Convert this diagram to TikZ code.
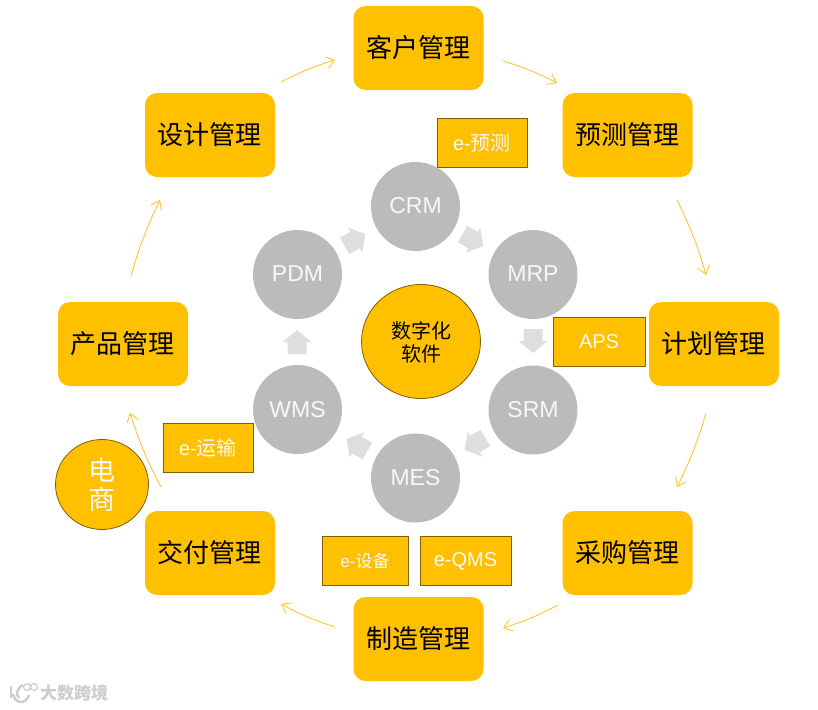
\documentclass[tikz,border=0pt]{standalone}
\usepackage{fontspec}
\setmainfont{Liberation Sans}
\newfontfamily\cjk{Noto Sans CJK SC}
\usetikzlibrary{arrows.meta}
\definecolor{amber}{HTML}{FFC000}
\definecolor{edgebrown}{HTML}{7F6000}
\definecolor{disc}{HTML}{BBBBBB}
\definecolor{blockgray}{HTML}{DEDEDE}
\definecolor{softwhite}{HTML}{F8F8F8}
\definecolor{wmgray}{HTML}{CDCDCD}
\definecolor{flowline}{HTML}{FFC533}
\newcommand{\sz}[1]{\fontsize{#1}{#1}\selectfont}
\newcommand{\blockarrow}[3]{\fill[blockgray,shift={(#1,#2)},rotate=#3] (0,-12) -- (14.5,0) -- (9.5,0) -- (9.5,12) -- (-9.5,12) -- (-9.5,0) -- (-14.5,0) -- cycle;}
\tikzset{
  stage/.style={fill=amber,rounded corners=12pt,minimum width=130pt,minimum height=84pt,inner sep=0pt,font=\cjk\sz{26},text=black},
  tag/.style={fill=amber,draw=edgebrown,line width=0.8pt,minimum height=49.5pt,inner sep=0pt,font=\sz{20},text=softwhite},
  sys/.style={circle,fill=disc,minimum size=89pt,inner sep=0pt,font=\sz{23},text=softwhite},
  flow/.style={draw=flowline,line width=0.9pt,-{Straight Barb[length=8pt,width=12pt,line width=0.9pt]}},
}
\begin{document}
\begin{tikzpicture}[x=1pt,y=-1pt]
\useasboundingbox (0,0) rectangle (818,709);
% outer ring
\node[stage] (kehu) at (418.5,48) {\raisebox{0.5pt}{\hspace{-1pt}客户管理}};
\node[stage] (yuce) at (627.5,135) {\raisebox{0.5pt}{\hspace{-1pt}预测管理}};
\node[stage] (jihua) at (714,344) {\raisebox{0.5pt}{\hspace{-2pt}计划管理}};
\node[stage] (caigou) at (627.5,553) {\raisebox{1pt}{\hspace{-1pt}采购管理}};
\node[stage] (zhizao) at (418.5,639) {\raisebox{0.5pt}{\hspace{-1pt}制造管理}};
\node[stage] (jiaofu) at (210,553) {\raisebox{1pt}{\hspace{-2pt}交付管理}};
\node[stage] (chanpin) at (123,344) {\raisebox{1pt}{\hspace{-2pt}产品管理}};
\node[stage] (sheji) at (210,135) {\raisebox{0.5pt}{\hspace{-2pt}设计管理}};
% free connector ends
\coordinate (a1) at (503,61);  \coordinate (b1) at (557,83);
\coordinate (a2) at (677,200); \coordinate (b2) at (706,275);
\coordinate (a3) at (706,413); \coordinate (b3) at (677,487);
\coordinate (a4) at (558,605); \coordinate (b4) at (503,628);
\coordinate (a5) at (335,627); \coordinate (b5) at (281,604);
\coordinate (a6) at (161,487); \coordinate (b6) at (130,413);
\coordinate (a7) at (131,276); \coordinate (b7) at (160,200);
\coordinate (a8) at (281,82);  \coordinate (b8) at (335,60);
\draw[flow] (a1) to[bend left=5] (b1);
\draw[flow] (a2) to[bend left=5] (b2);
\draw[flow] (a3) to[bend left=5] (b3);
\draw[flow] (a4) to[bend left=5] (b4);
\draw[flow] (a5) to[bend left=5] (b5);
\draw[flow] (a6) to[bend left=5] (b6);
\draw[flow] (a7) to[bend left=5] (b7);
\draw[flow] (a8) to[bend left=5] (b8);
% inner ring
\node[sys] (crm) at (415.5,206.5) {\raisebox{1.5pt}{CRM}};
\node[sys] (mrp) at (533,274.5) {\raisebox{1pt}{MRP}};
\node[sys] (srm) at (533,410) {\raisebox{1pt}{SRM}};
\node[sys] (mes) at (415.5,478) {\raisebox{1pt}{MES}};
\node[sys] (wms) at (297.5,409.5) {\raisebox{1pt}{WMS}};
\node[sys] (pdm) at (297.5,274.5) {\raisebox{1pt}{PDM}};
\blockarrow{355}{240}{-60}
\blockarrow{473}{240}{-120}
\blockarrow{533}{341}{180}
\blockarrow{475}{444}{120}
\blockarrow{357}{445}{60}
\blockarrow{297}{342}{0}
% centre
\draw[fill=amber,draw=edgebrown,line width=0.8pt] (421,341.5) ellipse [x radius=59.5pt,y radius=57pt];
\node[font=\cjk\sz{20},text=black,align=center,inner sep=0pt] (digital) at (421,342) {数字化\\[3pt]软件};
% tags
\node[tag,minimum width=90pt] (tyuce) at (482,143) {e-{\cjk 预测}};
\node[tag,minimum width=92pt] (taps) at (599,342) {APS};
\node[tag,minimum width=90pt] (tyunshu) at (208,448) {e-{\cjk 运输}};
\node[tag,minimum width=86pt,font=\sz{17}] (tshebei) at (365,561) {e-{\cjk 设备}};
\node[tag,minimum width=91pt] (tqms) at (465.5,561) {e-QMS};
% e-commerce
\draw[fill=amber,draw=edgebrown,line width=0.8pt] (102,484.5) ellipse [x radius=46.5pt,y radius=45pt];
\node[font=\cjk\sz{27},text=softwhite,align=center,inner sep=0pt] (dianshang) at (102,485) {电\\[2pt]商};
% watermark
\draw[wmgray,line width=2.4pt] (11,686) -- (11,698);
\draw[wmgray,line width=2.4pt] (23,685) .. controls (16,689) and (16,695) .. (19,698);
\draw[wmgray,line width=2.4pt] (13,694) .. controls (15,704) and (26,705) .. (29,695);
\draw[wmgray,line width=1.2pt] (27,687) circle [radius=3.5pt] (34,687) circle [radius=3.5pt];
\node[font=\cjk\bfseries\sz{17},text=wmgray,anchor=west,inner sep=0pt] (wm) at (40,693) {大数跨境};
\end{tikzpicture}
\end{document}
